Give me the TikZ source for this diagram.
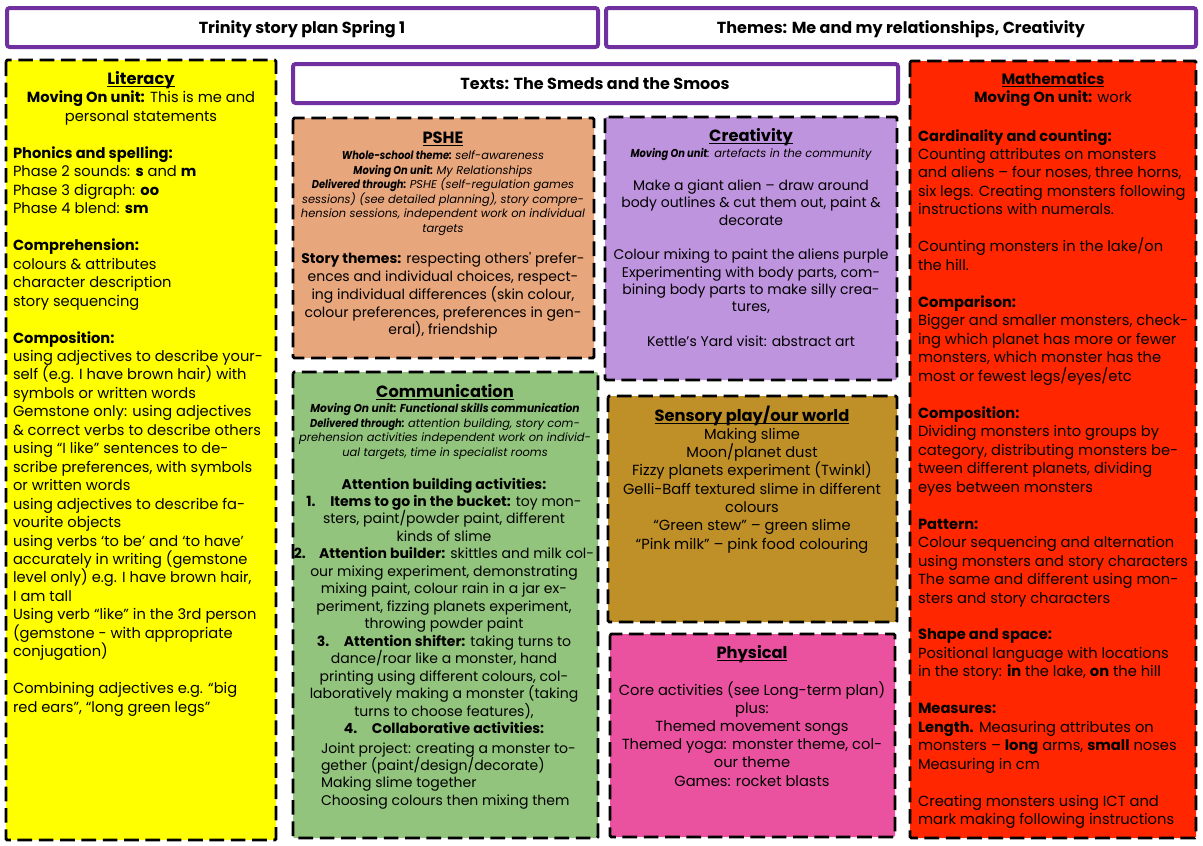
\documentclass[tikz,border=0pt]{standalone}
\usepackage{fontspec}
\setmainfont{Poppins}
\definecolor{hdrP}{HTML}{7030A0}
\definecolor{litY}{HTML}{FFFF00}
\definecolor{psheC}{HTML}{E8A67D}
\definecolor{commC}{HTML}{93C47D}
\definecolor{creaC}{HTML}{BF94DE}
\definecolor{sensC}{HTML}{BF9027}
\definecolor{physC}{HTML}{EA52A0}
\definecolor{mathC}{HTML}{FF2600}
\newcommand{\ttl}[2][12.2]{{\fontsize{#1}{15}\selectfont\bfseries\underline{\smash{#2}}}}
\newcommand{\emptyln}{\\\mbox{}\\}
\newcommand{\bodyf}[2][11]{\fontsize{#1}{#2}\selectfont}
\newcommand{\smallf}{\fontsize{8.6}{10.95}\selectfont}
\newcommand{\lbl}[2][0.86]{\scalebox{#1}[1]{\textbf{#2}}}
\tikzset{
  hdr/.style={draw=hdrP, line width=3pt, fill=white, rounded corners=2pt},
  dbox/.style={draw=black, line width=2.2pt, dash pattern=on 11pt off 5pt, rounded corners=1pt},
  txt/.style={inner sep=0pt, outer sep=0pt, text=black},
  ctr/.style={txt, anchor=base},
  lft/.style={txt, anchor=base west},
}
\begin{document}
\begin{tikzpicture}[x=0.75pt, y=-0.75pt]
\useasboundingbox (0,0) rectangle (1203,846);
\fill[white] (0,0) rectangle (1203,846);
% header boxes
\path[hdr] (7,8) rectangle (598,47);
\path[hdr] (606,8) rectangle (1196,47);
\path[hdr] (293,64) rectangle (898,103);
% content boxes
\path[dbox, fill=litY] (6,60) rectangle (276,840);
\path[dbox, fill=psheC] (293,118) rectangle (594,358);
\path[dbox, fill=commC] (293,372) rectangle (598,838);
\path[dbox, fill=creaC] (605,117) rectangle (897,380);
\path[dbox, fill=sensC] (608,396) rectangle (897,622);
\path[dbox, fill=physC] (610,634) rectangle (895,837);
\path[dbox, fill=mathC] (910,61) rectangle (1196,838);
% header texts
\node[ctr] (t1) at (302,33) {\fontsize{12}{14}\selectfont\bfseries Trinity story plan Spring 1};
\node[ctr] (t2) at (901,33) {\fontsize{12}{14}\selectfont\bfseries Themes: Me and my relationships, Creativity};
\node[ctr] (t3) at (595,89) {\fontsize{12}{14}\selectfont\bfseries Texts: The Smeds and the Smoos};
% Literacy
\node[ctr] (litT) at (141,84.5) {\parbox[t]{300pt}{\centering\bodyf{13.84pt}\ttl{Literacy}\\
\textbf{Moving On unit:} This is me and\\
personal statements}};
\node[lft] (litB) at (13,158.5) {\parbox[t]{300pt}{\raggedright\bodyf{13.84pt}\textbf{Phonics and spelling:}\\
Phase 2 sounds: \textbf{s} and \textbf{m}\\
Phase 3 digraph: \textbf{oo}\\
Phase 4 blend: \textbf{sm}\emptyln
\textbf{Comprehension:}\\
colours \& attributes\\
character description\\
story sequencing\emptyln
\textbf{Composition:}\\
using adjectives to describe your-\\
self (e.g. I have brown hair) with\\
symbols or written words\\
Gemstone only: using adjectives\\
\& correct verbs to describe others\\
using “I like” sentences to de-\\
scribe preferences, with symbols\\
or written words\\
using adjectives to describe fa-\\
vourite objects\\
using verbs ‘to be’ and ‘to have’\\
accurately in writing (gemstone\\
level only) e.g. I have brown hair,\\
I am tall\\
Using verb “like” in the 3rd person\\
(gemstone - with appropriate\\
conjugation)\emptyln
Combining adjectives e.g. “big\\
red ears”, “long green legs”}};
% PSHE
\node[ctr] (psheT) at (443,143) {\ttl{PSHE}};
\node[ctr] (psheS) at (443,159.5) {\parbox[t]{300pt}{\centering\smallf\itshape
\lbl{Whole-school theme:} self-awareness\\
\lbl{Moving On unit:} My Relationships\\
\lbl{Delivered through:} PSHE (self-regulation games\\
sessions) (see detailed planning), story compre-\\
hension sessions, independent work on individual\\
targets}};
\node[ctr] (psheB) at (443,263.5) {\parbox[t]{300pt}{\centering\bodyf[10.5]{13.4pt}
\textbf{Story themes:} respecting others\textquotesingle{} prefer-\\
ences and individual choices, respect-\\
ing individual differences (skin colour,\\
colour preferences, preferences in gen-\\
eral), friendship}};
% Communication
\node[ctr] (commT) at (445,397.5) {\ttl{Communication}};
\node[ctr] (commS) at (445,412.5) {\parbox[t]{300pt}{\centering\smallf\itshape
\lbl[0.93]{Moving On unit: Functional skills communication}\\
\lbl{Delivered through:} attention building, story com-\\
prehension activities independent work on individ-\\
ual targets, time in specialist rooms}};
\node[ctr] (commB) at (444,489) {\parbox[t]{300pt}{\centering\bodyf[10.5]{13.1pt}
\textbf{Attention building activities:}\\
\textbf{1.\hspace{11pt}Items to go in the bucket:} toy mon-\\
sters, paint/powder paint, different\\
kinds of slime\\
\textbf{2.\hspace{10pt}Attention builder:} skittles and milk col-\\
our mixing experiment, demonstrating\\
mixing paint, colour rain in a jar ex-\\
periment, fizzing planets experiment,\\
throwing powder paint\\
\textbf{3.\hspace{11pt}Attention shifter:} taking turns to\\
dance/roar like a monster, hand\\
printing using different colours, col-\\
laboratively making a monster (taking\\
turns to choose features),\\
\textbf{4.\hspace{11pt}Collaborative activities:}}};
\node[lft] (commL) at (321,753) {\parbox[t]{300pt}{\raggedright\bodyf[10.5]{13.1pt}
Joint project: creating a monster to-\\
gether (paint/design/decorate)\\
Making slime together\\
Choosing colours then mixing them}};
% Creativity
\node[ctr] (creaT) at (751,141) {\ttl{Creativity}};
\node[ctr] (creaS) at (751,157.5) {\smallf\itshape\lbl{Moving On unit}: artefacts in the community};
\node[ctr] (creaB) at (751,190.5) {\parbox[t]{300pt}{\centering\bodyf[10.5]{13pt}
Make a giant alien – draw around\\
body outlines \& cut them out, paint \&\\
decorate\emptyln
Colour mixing to paint the aliens purple\\
Experimenting with body parts, com-\\
bining body parts to make silly crea-\\
tures,\emptyln
Kettle’s Yard visit: abstract art}};
% Sensory
\node[ctr] (sensT) at (752,421.5) {\ttl{Sensory play/our world}};
\node[ctr] (sensB) at (752,439) {\parbox[t]{300pt}{\centering\bodyf{13.75pt}
Making slime\\
Moon/planet dust\\
Fizzy planets experiment (Twinkl)\\
Gelli-Baff textured slime in different\\
colours\\
“Green stew” – green slime\\
“Pink milk” – pink food colouring}};
% Physical
\node[ctr] (physT) at (752,658) {\ttl{Physical}};
\node[ctr] (physB) at (752,695) {\parbox[t]{300pt}{\centering\bodyf{13.65pt}
Core activities (see Long-term plan)\\
plus:\\
Themed movement songs\\
Themed yoga: monster theme, col-\\
our theme\\
Games: rocket blasts}};
% Mathematics
\node[ctr] (mathT) at (1053,84) {\parbox[t]{300pt}{\centering\bodyf{13.84pt}\ttl[11.2]{Mathematics}\\
\textbf{Moving On unit:} work}};
\node[lft] (mathB) at (918,141) {\parbox[t]{300pt}{\raggedright\bodyf{13.86pt}
\textbf{Cardinality and counting:}\\
Counting attributes on monsters\\
and aliens – four noses, three horns,\\
six legs. Creating monsters following\\
instructions with numerals.\emptyln
Counting monsters in the lake/on\\
the hill.\emptyln
\textbf{Comparison:}\\
Bigger and smaller monsters, check-\\
ing which planet has more or fewer\\
monsters, which monster has the\\
most or fewest legs/eyes/etc\emptyln
\textbf{Composition:}\\
Dividing monsters into groups by\\
category, distributing monsters be-\\
tween different planets, dividing\\
eyes between monsters\emptyln
\textbf{Pattern:}\\
Colour sequencing and alternation\\
using monsters and story characters\\
The same and different using mon-\\
sters and story characters\emptyln
\textbf{Shape and space:}\\
Positional language with locations\\
in the story: \textbf{in} the lake, \textbf{on} the hill\emptyln
\textbf{Measures:}\\
\textbf{Length.} Measuring attributes on\\
monsters – \textbf{long} arms, \textbf{small} noses\\
Measuring in cm\emptyln
Creating monsters using ICT and\\
mark making following instructions}};
\end{tikzpicture}
\end{document}
